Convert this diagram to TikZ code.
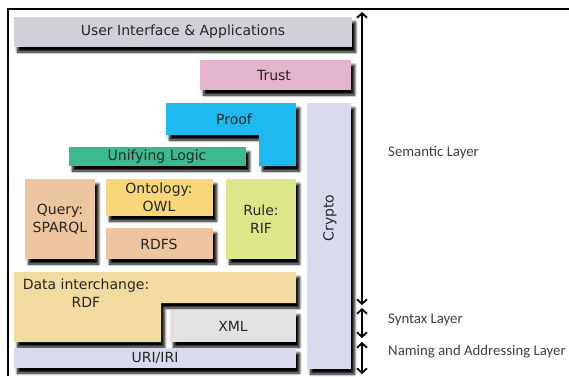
\documentclass[tikz,border=0pt]{standalone}
\usepackage{fontspec}
\usetikzlibrary{arrows.meta,shadows.blur}

\newfontfamily\verdana{DejaVu Sans}
\newfontfamily\calibri{Carlito}

\definecolor{cinzaui}{RGB}{208,208,216}
\definecolor{rosa}{RGB}{228,180,204}
\definecolor{ciano}{RGB}{30,185,238}
\definecolor{verde}{RGB}{61,185,146}
\definecolor{bege}{RGB}{237,197,158}
\definecolor{amarelo}{RGB}{248,214,122}
\definecolor{lima}{RGB}{222,230,138}
\definecolor{lilas}{RGB}{217,218,238}
\definecolor{areia}{RGB}{242,219,158}
\definecolor{cinzaxml}{RGB}{226,226,228}

\tikzset{
  caixa/.style={blur shadow={shadow xshift=3.5pt, shadow yshift=-5pt,
      shadow blur radius=2.5pt, shadow opacity=100, shadow blur steps=8}},
  rotulo/.style={font=\verdana\fontsize{14}{18}\selectfont, text=black!85,
      align=center, inner sep=0pt},
  camada/.style={font=\calibri\fontsize{14.8}{17}\selectfont, text=black!75,
      anchor=west, inner sep=0pt},
  seta/.style={line width=1.8pt,
      {Straight Barb[length=4.5pt,width=10pt]}-{Straight Barb[length=4.5pt,width=10pt]}}
}

\begin{document}
\begin{tikzpicture}[x=1pt, y=-1pt]
        \useasboundingbox (0,0) rectangle (569,376);

        % Moldura
        \draw[black, line width=1.6pt] (8,376) -- (8,9) -- (569,9);

        % Desenha as camadas
        \fill[cinzaui, caixa] (14,17) rectangle (352,47);
        \fill[rosa, caixa] (200,60) rectangle (351,90);
        \fill[ciano, caixa] (166,103) -- (296,103) -- (296,166) -- (259,166)
            -- (259,135) -- (166,135) -- cycle;
        \fill[lilas, caixa] (307,103) rectangle (351,369);
        \fill[verde, caixa] (69,147) rectangle (246,166);
        \fill[bege, caixa] (25,179) rectangle (95,259);
        \fill[amarelo, caixa] (106,179) rectangle (213,216);
        \fill[bege, caixa] (106,228) rectangle (213,259);
        \fill[lima, caixa] (226,179) rectangle (296,259);
        \fill[areia, caixa] (14,272) -- (296,272) -- (296,303) -- (161,303)
            -- (161,342) -- (14,342) -- cycle;
        \fill[cinzaxml, caixa] (170,310) rectangle (296,342);
        \fill[lilas, caixa] (14,348) rectangle (296,368);

        \node[rotulo] (ui) at (183,32) {User Interface \& Applications};
        \node[rotulo] (trust) at (274,75) {Trust};
        \node[rotulo] (proof) at (234,119) {Proof};
        \node[rotulo, rotate=90] (crypto) at (330,218) {Crypto};
        \node[rotulo] (logic) at (157,157) {Unifying Logic};
        \node[rotulo] (query) at (60,219) {Query:\\SPARQL};
        \node[rotulo] (owl) at (159,197) {Ontology:\\OWL};
        \node[rotulo] (rdfs) at (159,244) {RDFS};
        \node[rotulo] (rule) at (261,219) {Rule:\\RIF};
        \node[rotulo] (rdf) at (86,293) {Data interchange:\\RDF};
        \node[rotulo] (xml) at (233,326) {XML};
        \node[rotulo] (uri) at (155,358) {URI/IRI};

        % Setas das camadas
        \coordinate (s1) at (362,12);
        \coordinate (s2) at (362,305);
        \coordinate (s3) at (362,308);
        \coordinate (s4) at (362,338);
        \coordinate (s5) at (362,342);
        \coordinate (s6) at (362,374);
        \draw[seta] (s1) -- (s2);
        \draw[seta] (s3) -- (s4);
        \draw[seta] (s5) -- (s6);

        \node[camada] (semantica) at (388,153) {Semantic Layer};
        \node[camada] (sintaxe) at (388,320) {Syntax Layer};
        \node[camada] (nomes) at (388,352) {Naming and Addressing Layer};
    \end{tikzpicture}
\end{document}
